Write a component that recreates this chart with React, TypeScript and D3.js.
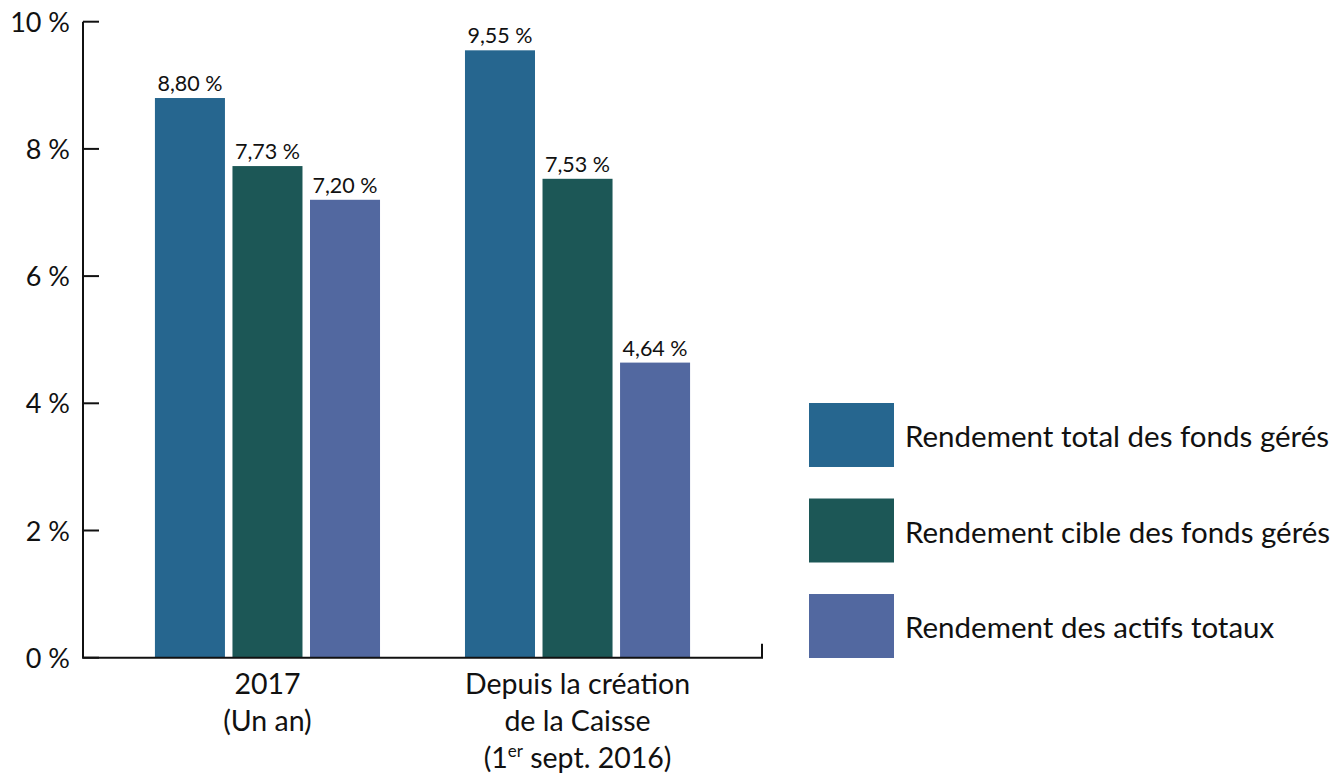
import * as d3 from "d3";

const categories = ["2017", "depuis"];
const categoryLines: Record<string, string[]> = {
  "2017": ["2017", "(Un an)"],
  depuis: ["Depuis la création", "de la Caisse", "(1er sept. 2016)"],
};
const seriesNames = [
  "Rendement total des fonds gérés",
  "Rendement cible des fonds gérés",
  "Rendement des actifs totaux",
];
const seriesColors = ["#26668f", "#1c5756", "#5268a0"];
const totalFonds = [8.8, 9.55];
const cibleFonds = [7.73, 7.53];
const actifsTotaux = [7.2, 4.64];
const yTicks = [0, 2, 4, 6, 8, 10];

const width = 1341;
const height = 773;
const font = "Lato, 'Open Sans', sans-serif";

function fmt(v: number) {
  return `${v.toFixed(2).replace(".", ",")} %`;
}

export default function App() {
  const series = [totalFonds, cibleFonds, actifsTotaux];
  const y = d3.scaleLinear().domain([0, 10]).range([657.7, 21.7]);
  const x0 = d3.scaleBand<string>().domain(categories).range([83, 762]).paddingInner(0.274).paddingOuter(0.232);
  const x1 = d3
    .scaleBand<number>()
    .domain(d3.range(series.length))
    .range([0, x0.bandwidth()])
    .paddingInner(0.097);
  const legendY = d3.scaleBand<number>().domain(d3.range(seriesNames.length)).range([403, 658]).paddingInner(0.33);

  return (
    <svg width={width} height={height} style={{ position: "absolute", left: 0, top: 0, fontFamily: font }}>
      <rect width={width} height={height} fill="#fff" />
      {categories.map((cat, ci) => (
        <g key={cat} transform={`translate(${x0(cat)},0)`}>
          {series.map((values, si) => (
            <g key={si}>
              <rect
                x={x1(si)}
                y={y(values[ci])}
                width={x1.bandwidth()}
                height={y(0) - y(values[ci])}
                fill={seriesColors[si]}
              />
              <text
                x={(x1(si) ?? 0) + x1.bandwidth() / 2}
                y={y(values[ci]) - 7}
                textAnchor="middle"
                fontSize={21.5}
                fill="#111"
              >
                {fmt(values[ci])}
              </text>
            </g>
          ))}
        </g>
      ))}

      {/* axes */}
      <line x1={83} x2={83} y1={y(10)} y2={y(0)} stroke="#111" strokeWidth={2} />
      {yTicks.map((t) => (
        <g key={t} transform={`translate(0,${y(t)})`}>
          <line x1={83} x2={99} stroke="#111" strokeWidth={2} />
          <text x={70} y={10} textAnchor="end" fontSize={27} fill="#111">
            {`${t} %`}
          </text>
        </g>
      ))}
      <line x1={82} x2={763} y1={y(0)} y2={y(0)} stroke="#111" strokeWidth={2} />
      <line x1={762} x2={762} y1={y(0) - 14} y2={y(0)} stroke="#111" strokeWidth={2} />

      {categories.map((cat) => (
        <text key={cat} textAnchor="middle" fontSize={28.5} fill="#111">
          {categoryLines[cat].map((line, i) => {
            const cx = (x0(cat) ?? 0) + x0.bandwidth() / 2;
            const yy = 694 + i * 37;
            if (line.startsWith("(1er")) {
              return (
                <tspan key={i} x={cx} y={yy}>
                  (1<tspan fontSize={17} dy={-11}>er</tspan>
                  <tspan dy={11}> sept. 2016)</tspan>
                </tspan>
              );
            }
            return (
              <tspan key={i} x={cx} y={yy}>
                {line}
              </tspan>
            );
          })}
        </text>
      ))}

      {/* legend */}
      {seriesNames.map((name, i) => (
        <g key={name} transform={`translate(0,${legendY(i)})`}>
          <rect x={809} y={0} width={85} height={legendY.bandwidth()} fill={seriesColors[i]} />
          <text x={905} y={44} fontSize={29.5} fill="#111">
            {name}
          </text>
        </g>
      ))}
    </svg>
  );
}
